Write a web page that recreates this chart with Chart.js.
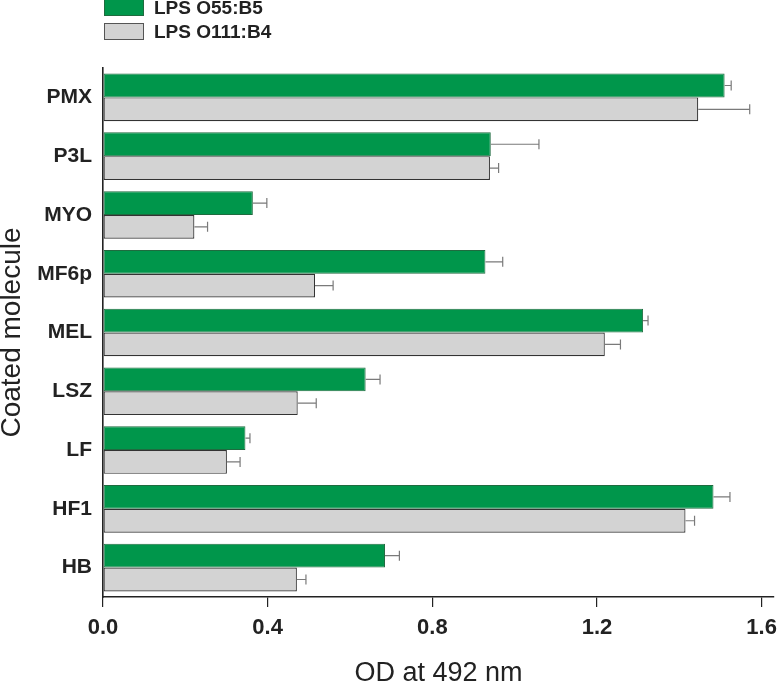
<!DOCTYPE html>
<html>
<head>
<meta charset="utf-8">
<script src="https://cdn.jsdelivr.net/npm/chart.js@4.4.1/dist/chart.umd.min.js"></script>
<style>
    html, body { margin: 0; padding: 0; background: #fff; }
    #wrap { position: relative; width: 777px; height: 687px; font-family: "Liberation Sans", Arial, sans-serif; }
    .legend { position: absolute; left: 104px; display: flex; align-items: center; font-weight: bold; font-size: 19px; color: #222; line-height: 16px; }
    .legend .box { width: 40px; height: 17px; margin-right: 10px; box-sizing: border-box; }
</style>
</head>
<body>
<div id="wrap">
    <canvas id="odChart" width="777" height="687"></canvas>
    <div class="legend" style="top:-1px"><span class="box" style="background:#00964b;border:1px solid #1f6b3f"></span>LPS O55:B5</div>
    <div class="legend" style="top:23px"><span class="box" style="background:#d3d3d3;border:1px solid #555"></span>LPS O111:B4</div>
</div>
<script>
const categories = ["PMX", "P3L", "MYO", "MF6p", "MEL", "LSZ", "LF", "HF1", "HB"];
const o55Values = [1.51, 0.942, 0.364, 0.929, 1.312, 0.638, 0.346, 1.483, 0.685];
const o55Errors = [0.016, 0.117, 0.034, 0.042, 0.012, 0.035, 0.011, 0.04, 0.035];
const o111Values = [1.446, 0.94, 0.222, 0.515, 1.219, 0.473, 0.301, 1.415, 0.471];
const o111Errors = [0.125, 0.021, 0.032, 0.044, 0.038, 0.045, 0.032, 0.022, 0.022];
const xTicks = [0, 0.4, 0.8, 1.2, 1.6];

// one-sided error bars drawn to the right of each bar
const errorBars = {
    id: "errorBars",
    afterDatasetsDraw(chart) {
        const ctx = chart.ctx;
        const xScale = chart.scales.x;
        ctx.save();
        ctx.strokeStyle = "#7a7a7a";
        ctx.lineWidth = 1.2;
        chart.data.datasets.forEach((ds, i) => {
            const meta = chart.getDatasetMeta(i);
            meta.data.forEach((bar, j) => {
                const xEnd = xScale.getPixelForValue(ds.data[j] + ds.errors[j]);
                ctx.beginPath();
                ctx.moveTo(bar.x, bar.y);
                ctx.lineTo(xEnd, bar.y);
                ctx.moveTo(xEnd, bar.y - 5);
                ctx.lineTo(xEnd, bar.y + 5);
                ctx.stroke();
            });
        });
        ctx.restore();
    },
};

const data = {
    labels: categories,
    datasets: [
        {
            label: "LPS O55:B5",
            data: o55Values,
            errors: o55Errors,
            backgroundColor: "#00964b",
            borderColor: "#1f6b3f",
            borderWidth: 1,
            borderSkipped: false,
        },
        {
            label: "LPS O111:B4",
            data: o111Values,
            errors: o111Errors,
            backgroundColor: "#d3d3d3",
            borderColor: "#333",
            borderWidth: 1.2,
            borderSkipped: false,
        },
    ],
};

const config = {
    type: "bar",
    data: data,
    options: {
        indexAxis: "y",
        responsive: false,
        animation: false,
        barPercentage: 1.0,
        categoryPercentage: 0.81,
        layout: { padding: { top: 68, right: 3, left: 0, bottom: 0 } },
        plugins: {
            legend: { display: false },
            tooltip: { enabled: false },
        },
        scales: {
            x: {
                type: "linear",
                min: 0,
                max: 1.63,
                afterBuildTicks(scale) {
                    scale.ticks = xTicks.map((v) => ({ value: v }));
                },
                afterFit(scale) {
                    scale.height = 90;
                    scale.paddingLeft = 0;
                    scale.paddingRight = 0;
                },
                grid: { drawOnChartArea: false, drawTicks: true, tickLength: 10, color: "#222", lineWidth: 1.2 },
                border: { color: "#222", width: 1.6 },
                ticks: {
                    padding: 8,
                    color: "#222",
                    font: { family: "Liberation Sans", size: 22, weight: "bold" },
                    callback: (v) => Number(v).toFixed(1),
                },
                title: {
                    display: true,
                    text: "OD at 492 nm",
                    color: "#222",
                    padding: { top: 0, bottom: 0 },
                    font: { family: "Liberation Sans", size: 27, lineHeight: 1 },
                },
            },
            y: {
                afterFit(scale) {
                    scale.width = 103;
                },
                grid: { display: false, drawTicks: false },
                border: { color: "#222", width: 1.6 },
                ticks: {
                    padding: 11,
                    color: "#222",
                    font: { family: "Liberation Sans", size: 21, weight: "bold" },
                },
                title: {
                    display: true,
                    text: "Coated molecule",
                    color: "#222",
                    padding: { top: 0, bottom: 0 },
                    font: { family: "Liberation Sans", size: 28, lineHeight: 0.9 },
                },
            },
        },
    },
    plugins: [errorBars],
};

const ctx = document.getElementById("odChart").getContext("2d");
new Chart(ctx, config);
</script>
</body>
</html>
